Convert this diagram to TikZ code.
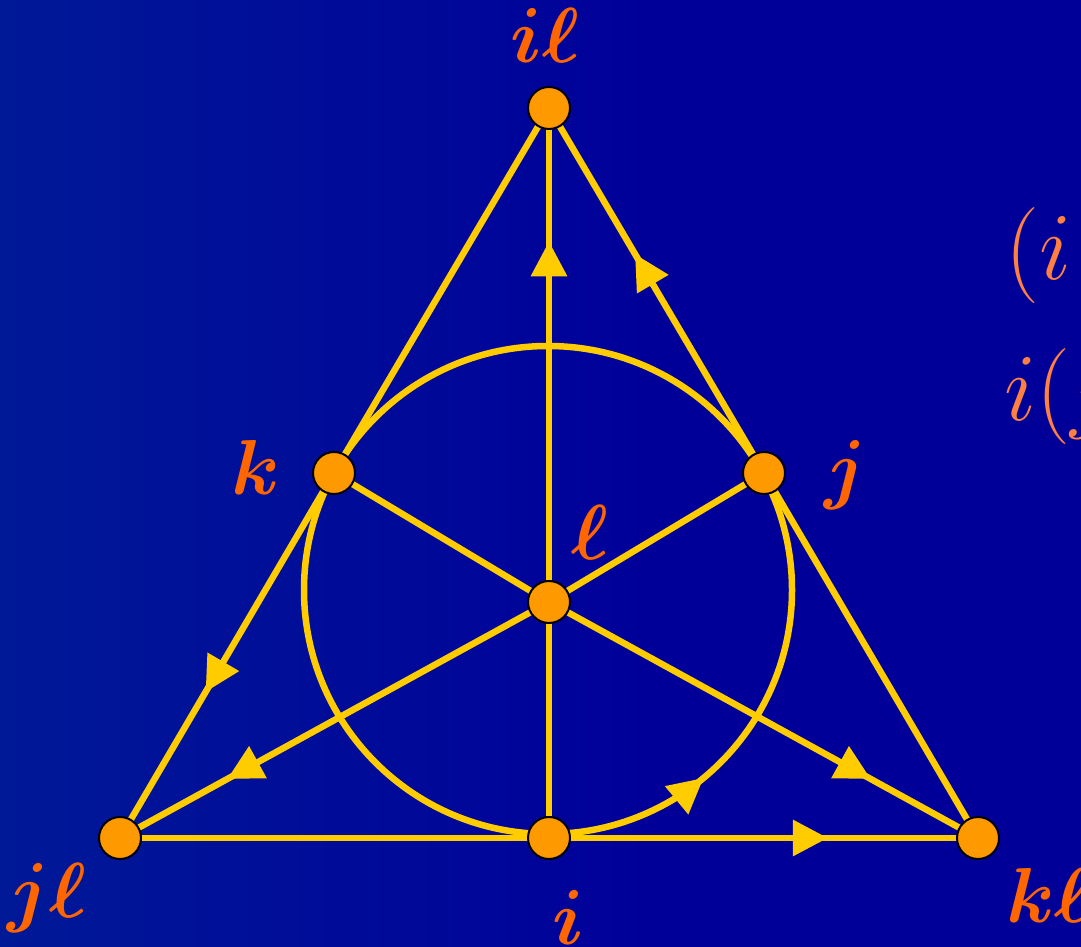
\documentclass[tikz,border=0pt]{standalone}
\usepackage{fix-cm}
\usepackage{bm}
\usetikzlibrary{arrows.meta,decorations.markings,calc}
\definecolor{lineyellow}{RGB}{255,204,0}
\definecolor{dotorange}{RGB}{255,153,0}
\definecolor{labelorange}{RGB}{255,102,0}
\definecolor{textorange}{RGB}{255,128,64}
\definecolor{bgleft}{RGB}{0,46,150}
\definecolor{bgright}{RGB}{0,0,153}
\pgfdeclarehorizontalshading{bgshade}{100bp}{color(0bp)=(bgleft); color(55bp)=(bgright); color(100bp)=(bgright)}
\tikzset{
  edge/.style={draw=lineyellow, line width=6.5pt},
  midarrow/.style={postaction={decorate}, decoration={markings,
      mark=at position #1 with {\arrow{Triangle[length=35pt,width=35pt]}}}},
  vertex/.style={circle, fill=dotorange, draw=black, line width=2pt, minimum size=42pt, inner sep=0pt},
  lab/.style={text=labelorange, anchor=base, inner sep=0pt, font=\fontsize{78}{78}\selectfont},
  rtext/.style={text=textorange, anchor=base west, inner sep=0pt, font=\fontsize{96}{96}\selectfont}
}
\begin{document}
\begin{tikzpicture}[x=1pt,y=1pt]
\useasboundingbox (0,0) rectangle (1081,947);
\clip (0,0) rectangle (1081,947);
\shade[shading=bgshade] (0,0) rectangle (1081,947);
% vertex positions
\coordinate (il) at (549,839);
\coordinate (k)  at (334,474);
\coordinate (j)  at (764,474);
\coordinate (l)  at (549,345);
\coordinate (jl) at (120,109);
\coordinate (i)  at (549,109);
\coordinate (kl) at (978,109);
\coordinate (cc) at (548,357);
% circle
\draw[edge, midarrow=0.86] ($(cc)+(244,0)$) arc[start angle=0, end angle=360, radius=244];
% sides
\draw[edge] (il) -- (k);
\draw[edge, midarrow=0.60] (k) -- (jl);
\draw[edge, midarrow=0.60] (j) -- (il);
\draw[edge] (j) -- (kl);
\draw[edge] (jl) -- (i);
\draw[edge, midarrow=0.65] (i) -- (kl);
% medians
\draw[edge] (i) -- (l);
\draw[edge, midarrow=0.73] (l) -- (il);
\draw[edge] (k) -- (l);
\draw[edge, midarrow=0.75] (l) -- (kl);
\draw[edge] (j) -- (l);
\draw[edge, midarrow=0.75] (l) -- (jl);
% vertices
\foreach \v in {il,k,j,l,jl,i,kl} \node[vertex] (n\v) at (\v) {};
% labels
\node[lab] (til) at (545,884) {$\bm{i\ell}$};
\node[lab] (tk)  at (256,452) {$\bm{k}$};
\node[lab] (tj)  at (845,452) {$\bm{j}$};
\node[lab] (tl)  at (590,387) {$\bm{\ell}$};
\node[lab] (tjl) at (47,29) {$\bm{j\ell}$};
\node[lab] (ti)  at (568,2) {$\bm{i}$};
\node[lab, anchor=base west] (tkl) at (1006,24) {$\bm{k\ell}$};
% right-hand text (clipped at the edge, as in the reference)
\node[rtext] (r1) at (1005,667) {$(i$};
\node[rtext] (r2) at (1004,526) {$i(j$};
\end{tikzpicture}
\end{document}
